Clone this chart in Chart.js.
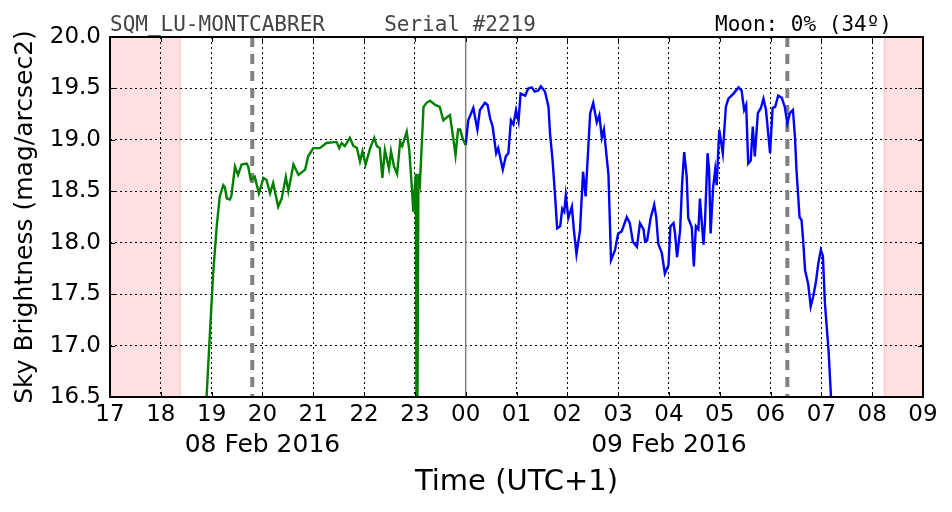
<!DOCTYPE html>
<html>
<head>
<meta charset="utf-8">
<script src="https://cdn.jsdelivr.net/npm/chart.js@4/dist/chart.umd.min.js"></script>
<style>
  html, body { margin: 0; padding: 0; background: #fff; }
  #wrap { width: 952px; height: 512px; position: relative; }
</style>
</head>
<body>
<div id="wrap"><canvas id="sqmChart"></canvas></div>
<script>
// hours counted from 00:00 of 08 Feb (values > 24 belong to 09 Feb)
const eveningHours = [18.89, 18.97, 19.03, 19.10, 19.16, 19.23, 19.26, 19.30, 19.36, 19.39, 19.46, 19.52, 19.59, 19.69, 19.72, 19.77, 19.85, 19.93, 20.02, 20.08, 20.15, 20.21, 20.31, 20.38, 20.46, 20.51, 20.61, 20.71, 20.84, 20.90, 21.00, 21.13, 21.26, 21.46, 21.51, 21.56, 21.62, 21.72, 21.79, 21.86, 21.92, 21.97, 22.03, 22.12, 22.20, 22.25, 22.31, 22.36, 22.41, 22.49, 22.53, 22.59, 22.65, 22.71, 22.75, 22.84, 22.89, 22.94, 22.97, 23.00, 23.02, 23.03, 23.05, 23.07, 23.10, 23.17, 23.23, 23.30, 23.40, 23.49, 23.56, 23.63, 23.69, 23.76, 23.80, 23.85, 23.89, 23.95, 24.00];
const eveningMag = [16.40, 17.15, 17.70, 18.16, 18.45, 18.56, 18.54, 18.43, 18.42, 18.46, 18.74, 18.66, 18.76, 18.77, 18.74, 18.61, 18.64, 18.48, 18.63, 18.61, 18.48, 18.58, 18.35, 18.43, 18.64, 18.50, 18.76, 18.66, 18.71, 18.84, 18.92, 18.92, 18.97, 18.98, 18.92, 18.97, 18.94, 19.02, 18.94, 18.92, 18.79, 18.89, 18.76, 18.92, 19.02, 18.94, 18.92, 18.63, 18.90, 18.72, 18.89, 18.74, 18.67, 18.98, 18.94, 19.08, 18.90, 18.54, 18.30, 18.55, 18.67, 16.30, 16.30, 18.67, 18.58, 19.32, 19.36, 19.38, 19.34, 19.32, 19.19, 19.22, 19.24, 19.00, 18.85, 19.10, 19.10, 19.00, 18.95];

const morningHours = [24.00, 24.05, 24.15, 24.23, 24.28, 24.38, 24.43, 24.48, 24.53, 24.60, 24.64, 24.73, 24.79, 24.84, 24.89, 24.94, 24.99, 25.04, 25.08, 25.17, 25.23, 25.30, 25.36, 25.43, 25.48, 25.56, 25.63, 25.66, 25.71, 25.76, 25.80, 25.86, 25.90, 25.94, 25.97, 26.02, 26.09, 26.13, 26.18, 26.25, 26.31, 26.36, 26.45, 26.51, 26.58, 26.63, 26.68, 26.72, 26.81, 26.86, 26.94, 27.00, 27.07, 27.17, 27.23, 27.29, 27.37, 27.43, 27.50, 27.53, 27.57, 27.64, 27.71, 27.75, 27.79, 27.86, 27.92, 27.99, 28.03, 28.09, 28.12, 28.16, 28.22, 28.26, 28.30, 28.35, 28.38, 28.45, 28.49, 28.53, 28.58, 28.61, 28.68, 28.71, 28.76, 28.79, 28.82, 28.87, 28.91, 28.94, 28.99, 29.02, 29.06, 29.12, 29.17, 29.27, 29.37, 29.43, 29.48, 29.52, 29.56, 29.61, 29.65, 29.69, 29.75, 29.81, 29.86, 29.91, 29.99, 30.04, 30.09, 30.15, 30.22, 30.28, 30.33, 30.38, 30.44, 30.48, 30.51, 30.57, 30.61, 30.64, 30.68, 30.74, 30.79, 30.84, 30.89, 30.94, 30.99, 31.03, 31.07, 31.14, 31.19, 31.21];
const morningMag = [18.95, 19.19, 19.31, 19.10, 19.29, 19.36, 19.34, 19.21, 19.13, 18.87, 18.92, 18.71, 18.84, 18.87, 19.19, 19.15, 19.29, 19.18, 19.45, 19.43, 19.50, 19.51, 19.47, 19.48, 19.52, 19.47, 19.32, 19.06, 18.80, 18.45, 18.14, 18.16, 18.33, 18.30, 18.46, 18.24, 18.35, 18.12, 17.89, 18.12, 18.69, 18.45, 19.26, 19.36, 19.17, 19.24, 19.02, 19.10, 18.66, 17.83, 17.93, 18.09, 18.11, 18.25, 18.19, 18.01, 17.96, 18.19, 18.13, 18.01, 18.02, 18.24, 18.37, 18.25, 17.99, 17.90, 17.70, 17.78, 18.16, 18.19, 18.09, 17.86, 18.12, 18.58, 18.88, 18.64, 18.24, 18.15, 17.77, 18.16, 18.13, 18.43, 17.98, 18.21, 18.87, 18.71, 18.09, 18.54, 18.71, 18.56, 19.10, 19.00, 18.87, 19.32, 19.40, 19.45, 19.51, 19.48, 19.29, 19.34, 18.77, 18.80, 19.13, 18.84, 19.26, 19.31, 19.40, 19.29, 18.87, 19.31, 19.32, 19.43, 19.41, 19.32, 19.16, 19.26, 19.29, 19.03, 18.71, 18.25, 18.22, 18.03, 17.73, 17.60, 17.38, 17.48, 17.61, 17.80, 17.93, 17.87, 17.41, 16.96, 16.50, 16.35];

// twilight / astronomical markers (hours)
const daylightSpans = [[17, 18.38], [32.24, 33]];
const twilightMarks = [19.80, 30.33];
const midnightMark = 24;

const xTicks = [17, 18, 19, 20, 21, 22, 23, 24, 25, 26, 27, 28, 29, 30, 31, 32, 33];
const yTicks = [16.5, 17.0, 17.5, 18.0, 18.5, 19.0, 19.5, 20.0];
const dateLabels = [{ at: 20, text: '08 Feb 2016' }, { at: 28, text: '09 Feb 2016' }];

const SANS = '"DejaVu Sans", sans-serif';
const MONO = '"DejaVu Sans Mono", monospace';

const toPoints = (xs, ys) => xs.map((x, i) => ({ x, y: ys[i] }));

// fondos, líneas verticales, marco y textos
const decorPlugin = {
    id: 'sqmDecor',
    beforeDraw(chart) {
        const { ctx, chartArea: a, scales: { x } } = chart;
        ctx.save();
        daylightSpans.forEach(([s, e]) => {
            const x1 = x.getPixelForValue(s), x2 = x.getPixelForValue(e);
            ctx.fillStyle = 'rgba(255,0,0,0.12)';
            ctx.fillRect(x1, a.top, x2 - x1, a.bottom - a.top);
            ctx.strokeStyle = 'rgba(255,0,0,0.15)';
            ctx.lineWidth = 1.5;
            ctx.beginPath();
            ctx.moveTo(s === 17 ? x2 : x1, a.top);
            ctx.lineTo(s === 17 ? x2 : x1, a.bottom);
            ctx.stroke();
        });
        ctx.restore();
    },
    beforeDatasetsDraw(chart) {
        const { ctx, chartArea: a, scales: { x } } = chart;
        ctx.save();
        ctx.strokeStyle = '#808080';
        ctx.lineWidth = 1.5;
        const mx = x.getPixelForValue(midnightMark);
        ctx.beginPath();
        ctx.moveTo(mx, a.top);
        ctx.lineTo(mx, a.bottom);
        ctx.stroke();
        ctx.lineWidth = 4;
        ctx.setLineDash([10, 7]);
        twilightMarks.forEach(t => {
            const px = x.getPixelForValue(t);
            ctx.beginPath();
            ctx.moveTo(px, a.top);
            ctx.lineTo(px, a.bottom);
            ctx.stroke();
        });
        ctx.restore();
    },
    afterDraw(chart) {
        const { ctx, chartArea: a, scales: { x, y } } = chart;
        ctx.save();
        // ticks hacia dentro
        ctx.strokeStyle = '#000';
        ctx.lineWidth = 1;
        ctx.beginPath();
        xTicks.forEach(t => {
            const px = Math.round(x.getPixelForValue(t)) + 0.5;
            ctx.moveTo(px, a.bottom); ctx.lineTo(px, a.bottom - 5);
            ctx.moveTo(px, a.top); ctx.lineTo(px, a.top + 5);
        });
        yTicks.forEach(t => {
            const py = Math.round(y.getPixelForValue(t)) + 0.5;
            ctx.moveTo(a.left, py); ctx.lineTo(a.left + 5, py);
            ctx.moveTo(a.right, py); ctx.lineTo(a.right - 5, py);
        });
        ctx.stroke();
        // marco
        ctx.lineWidth = 2;
        ctx.strokeRect(a.left, a.top, a.right - a.left, a.bottom - a.top);

        // cabecera
        ctx.font = '21px ' + MONO;
        ctx.textBaseline = 'alphabetic';
        ctx.fillStyle = '#444';
        ctx.textAlign = 'left';
        ctx.fillText('SQM_LU-MONTCABRER', a.left, 31);
        ctx.textAlign = 'center';
        ctx.fillText('Serial #2219', 460, 31);
        ctx.fillStyle = '#000';
        ctx.textAlign = 'right';
        ctx.fillText('Moon: 0% (34º)', 892, 31);

        // fechas
        ctx.font = '25px ' + SANS;
        ctx.textAlign = 'center';
        ctx.textBaseline = 'middle';
        dateLabels.forEach(d => ctx.fillText(d.text, x.getPixelForValue(d.at), 445));

        // títulos de ejes
        ctx.font = '29px ' + SANS;
        ctx.fillText('Time (UTC+1)', (a.left + a.right) / 2, 482);
        ctx.save();
        ctx.translate(25, (a.top + a.bottom) / 2);
        ctx.rotate(-Math.PI / 2);
        ctx.font = '25px ' + SANS;
        ctx.fillText('Sky Brightness (mag/arcsec2)', 0, 0);
        ctx.restore();
        ctx.restore();
    }
};

const canvas = document.getElementById('sqmChart');
new Chart(canvas.getContext('2d'), {
    type: 'line',
    data: {
        datasets: [
            {
                label: 'evening',
                data: toPoints(eveningHours, eveningMag),
                borderColor: '#008000',
                borderWidth: 2.4,
                pointRadius: 0,
                tension: 0,
                fill: false,
                clip: 0
            },
            {
                label: 'morning',
                data: toPoints(morningHours, morningMag),
                borderColor: '#0000ff',
                borderWidth: 2.4,
                pointRadius: 0,
                tension: 0,
                fill: false,
                clip: 0
            }
        ]
    },
    options: {
        responsive: true,
        maintainAspectRatio: false,
        animation: false,
        events: [],
        layout: { padding: { left: 0, right: 29, top: 37, bottom: 0 } },
        plugins: {
            legend: { display: false },
            tooltip: { enabled: false },
            title: { display: false }
        },
        scales: {
            x: {
                type: 'linear',
                min: 17,
                max: 33,
                afterBuildTicks: (scale) => { scale.ticks = xTicks.map(v => ({ value: v })); },
                afterFit: (scale) => { scale.height = 115; },
                ticks: {
                    autoSkip: false,
                    maxRotation: 0,
                    padding: 4,
                    color: '#000',
                    font: { family: SANS, size: 23 },
                    callback: (v) => String(v % 24).padStart(2, '0')
                },
                grid: { color: '#000', lineWidth: 1, drawTicks: false },
                border: { display: false, dash: [2, 3] }
            },
            y: {
                type: 'linear',
                min: 16.5,
                max: 20,
                afterBuildTicks: (scale) => { scale.ticks = yTicks.map(v => ({ value: v })); },
                afterFit: (scale) => { scale.width = 110; },
                ticks: {
                    padding: 9,
                    color: '#000',
                    font: { family: SANS, size: 23 },
                    callback: (v) => Number(v).toFixed(1)
                },
                grid: { color: '#000', lineWidth: 1, drawTicks: false },
                border: { display: false, dash: [2, 3] }
            }
        }
    },
    plugins: [decorPlugin]
});
</script>
</body>
</html>
